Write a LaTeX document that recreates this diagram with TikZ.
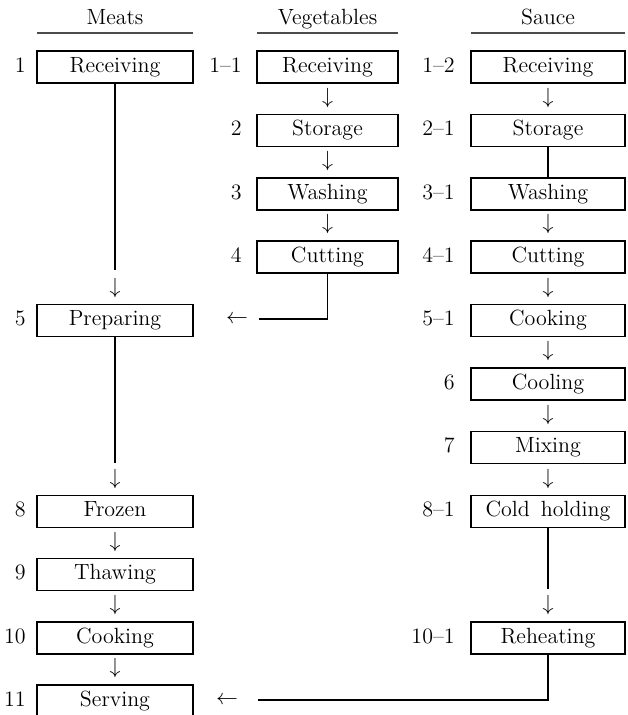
\documentclass[tikz,border=0pt]{standalone}
\usetikzlibrary{positioning}
\begin{document}
\begin{tikzpicture}[x=0.5pt,y=-0.5pt,
  txt/.style={font=\fontsize{11}{13}\selectfont, text height=1.5ex, text depth=0.25ex},
  box/.style={txt, draw, line width=0.6pt, inner sep=0pt, minimum height=16pt},
  mbox/.style={box, minimum width=78pt},
  vbox/.style={box, minimum width=70.5pt},
  sbox/.style={box, minimum width=77pt},
  lab/.style={txt, anchor=east, inner sep=0pt},
  arr/.style={font=\fontsize{11}{13}\selectfont, inner sep=0pt},
  conn/.style={line width=0.8pt},
  head/.style={txt, inner sep=0pt},
  hline/.style={line width=0.6pt, black!70}
]
\useasboundingbox (0,0) rectangle (627,715);
% headers
\node[head] (hm) at (115,19) {Meats};
\node[head] (hv) at (327.5,19) {Vegetables};
\node[head] (hs) at (548,19) {Sauce};
\coordinate (hm1) at (37,33); \coordinate (hm2) at (193,33);
\coordinate (hv1) at (257,33); \coordinate (hv2) at (398,33);
\coordinate (hs1) at (471,33); \coordinate (hs2) at (625,33);
\draw[hline] (hm1) -- (hm2);
\draw[hline] (hv1) -- (hv2);
\draw[hline] (hs1) -- (hs2);
% meats
\node[mbox] (m1) at (115,67) {Receiving};
\node[mbox] (m5) at (115,320.5) {Preparing};
\node[mbox] (m8) at (115,511.5) {Frozen};
\node[mbox] (m9) at (115,574.5) {Thawing};
\node[mbox] (m10) at (115,638) {Cooking};
\node[mbox] (m11) at (115,701) {Serving};
\node[lab] (lm1) at (26,67) {1};
\node[lab] (lm5) at (26,320.5) {5};
\node[lab] (lm8) at (26,511.5) {8};
\node[lab] (lm9) at (26,574.5) {9};
\node[lab] (lm10) at (26,638) {10};
\node[lab] (lm11) at (26,701) {11};
% vegetables
\node[vbox] (v1) at (327.5,67) {Receiving};
\node[vbox] (v2) at (327.5,130.5) {Storage};
\node[vbox] (v3) at (327.5,194) {Washing};
\node[vbox] (v4) at (327.5,257) {Cutting};
\node[lab] (lv1) at (242,67) {1--1};
\node[lab] (lv2) at (242,130.5) {2};
\node[lab] (lv3) at (242,194) {3};
\node[lab] (lv4) at (242,257) {4};
% sauce
\node[sbox] (s1) at (548,67) {Receiving};
\node[sbox] (s2) at (548,130.5) {Storage};
\node[sbox] (s3) at (548,194) {Washing};
\node[sbox] (s4) at (548,257) {Cutting};
\node[sbox] (s5) at (548,320.5) {Cooking};
\node[sbox] (s6) at (548,384) {Cooling};
\node[sbox] (s7) at (548,447.5) {Mixing};
\node[sbox] (s8) at (548,511.5) {Cold\enspace holding};
\node[sbox] (s10) at (548,638) {Reheating};
\node[lab] (ls1) at (455,67) {1--2};
\node[lab] (ls2) at (455,130.5) {2--1};
\node[lab] (ls3) at (455,194) {3--1};
\node[lab] (ls4) at (455,257) {4--1};
\node[lab] (ls5) at (455,320.5) {5--1};
\node[lab] (ls6) at (455,384) {6};
\node[lab] (ls7) at (455,447.5) {7};
\node[lab] (ls8) at (455,511.5) {8--1};
\node[lab] (ls10) at (455,638) {10--1};
% arrow glyphs (down)
\node[arr, above=3pt of m5] (am5) {$\downarrow$};
\node[arr, above=3pt of m8] (am8) {$\downarrow$};
\node[arr, above=3pt of m9] (am9) {$\downarrow$};
\node[arr, above=3pt of m10] (am10) {$\downarrow$};
\node[arr, above=3pt of m11] (am11) {$\downarrow$};
\node[arr, above=3pt of v2] (av2) {$\downarrow$};
\node[arr, above=3pt of v3] (av3) {$\downarrow$};
\node[arr, above=3pt of v4] (av4) {$\downarrow$};
\node[arr, above=3pt of s2] (as2) {$\downarrow$};
\node[arr, above=3pt of s4] (as4) {$\downarrow$};
\node[arr, above=3pt of s5] (as5) {$\downarrow$};
\node[arr, above=3pt of s6] (as6) {$\downarrow$};
\node[arr, above=3pt of s7] (as7) {$\downarrow$};
\node[arr, above=3pt of s8] (as8) {$\downarrow$};
\node[arr, above=3pt of s10] (as10) {$\downarrow$};
% arrow glyphs (left)
\node[arr] (al5) at (237,319) {$\leftarrow$};
\node[arr] (al11) at (227,700) {$\leftarrow$};
% connectors
\draw[conn] (m1.south) -- ([yshift=4pt]am5.north);
\draw[conn] (m5.south) -- ([yshift=3pt]am8.north);
\draw[conn] (s8.south) -- ([yshift=3pt]as10.north);
\draw[conn] (s2.south) -- (s3.north);
\draw[conn] (v4.south) |- ([xshift=5.5pt]al5.east);
\draw[conn] (s10.south) |- ([xshift=10pt]al11.east);
\end{tikzpicture}
\end{document}
